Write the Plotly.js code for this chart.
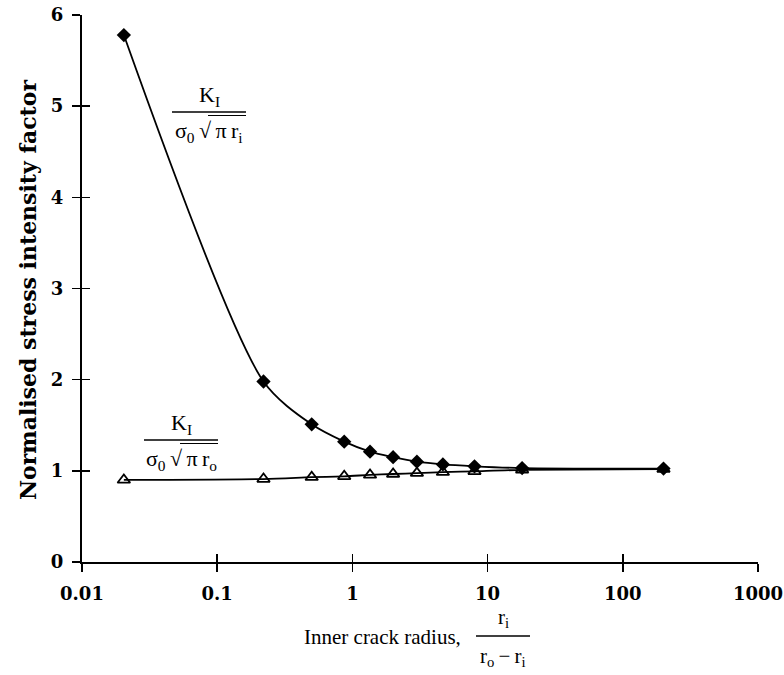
<!DOCTYPE html>
<html>
<head>
<meta charset="utf-8">
<script src="https://cdn.plot.ly/plotly-3.0.1.min.js"></script>
<style>html,body{margin:0;padding:0;background:#fff}#chart{width:784px;height:675px}</style>
</head>
<body>
<div id="chart"></div>
<script>
// ---- data ----
const crackRatio = [0.0204, 0.22, 0.5, 0.87, 1.35, 2, 3, 4.67, 8, 18, 200];
const kiInner = [5.78, 1.98, 1.51, 1.32, 1.21, 1.15, 1.10, 1.07, 1.05, 1.03, 1.025];
const kiOuter = [0.90, 0.91, 0.93, 0.94, 0.955, 0.965, 0.975, 0.985, 0.995, 1.01, 1.02];
const xTickVals = [0.01, 0.1, 1, 10, 100, 1000];
const xTickText = ['0.01', '0.1', '1', '10', '100', '1000'];
const yTickVals = [0, 1, 2, 3, 4, 5, 6];
const yTickText = ['0', '1', '2', '3', '4', '5', '6'];

// ---- layout geometry ----
const W = 784, H = 675;
const M = {l: 82, r: 26, t: 15, b: 113};
const PW = W - M.l - M.r, PH = H - M.t - M.b;
const px = v => (v - M.l) / PW;          // pixel x -> paper
const py = v => (H - M.b - v) / PH;      // pixel y -> paper

const serif = 'Liberation Serif, Times New Roman, serif';
const boldSerif = 'DejaVu Serif, serif';
const ts = '\u2009';

const traces = [
  {x: crackRatio, y: kiOuter, mode: 'lines+markers', type: 'scatter',
   line: {color: '#000', width: 1.8, shape: 'spline', smoothing: 0.8},
   marker: {symbol: 'triangle-up-open', size: 11, color: '#000', line: {width: 1.8, color: '#000'}},
   hoverinfo: 'x+y'},
  {x: crackRatio, y: kiInner, mode: 'lines+markers', type: 'scatter',
   line: {color: '#000', width: 1.8, shape: 'spline', smoothing: 0.8},
   marker: {symbol: 'diamond', size: 11, color: '#000'},
   hoverinfo: 'x+y'},
  // invisible trace so the inside-tick overlay axes are drawn
  {x: crackRatio, y: kiInner, xaxis: 'x2', yaxis: 'y2', mode: 'markers',
   marker: {opacity: 0}, hoverinfo: 'skip', showlegend: false}
];

const axisCommon = {
  showline: true, linecolor: '#000', linewidth: 2,
  ticks: 'outside', ticklen: 8, tickwidth: 1.5, tickcolor: '#000',
  showgrid: false, zeroline: false, fixedrange: true,
  tickfont: {family: boldSerif, size: 18, color: '#000', weight: 'bold'}
};

const ann = [];
function txt(x, y, text, size, extra) {
  ann.push(Object.assign({xref: 'paper', yref: 'paper', x: px(x), y: py(y), text: text,
    showarrow: false, xanchor: 'center', yanchor: 'middle',
    font: {family: serif, size: size, color: '#000'}}, extra || {}));
}
// y-axis title
txt(28, 290, 'Normalised stress intensity factor', 22,
  {textangle: -90, font: {family: boldSerif, size: 22, color: '#000', weight: 'bold'}});
// x-axis title
txt(463, 637, 'Inner crack radius,', 21, {xanchor: 'right'});
txt(503, 618, 'r<sub>i</sub>', 21);
txt(503, 657, 'r<sub>o</sub>' + ts + '−' + ts + 'r<sub>i</sub>', 21);
// fraction near the inner curve
txt(209, 96, 'K<sub>I</sub>', 22);
txt(209, 132, 'σ<sub>0</sub>' + ts + '√' + ts + 'π' + ts + 'r<sub>i</sub>', 22);
// fraction near the outer curve
txt(181, 424, 'K<sub>I</sub>', 22);
txt(181, 460, 'σ<sub>0</sub>' + ts + '√' + ts + 'π' + ts + 'r<sub>o</sub>', 22);

const shapes = [];
function hline(x0, x1, y, w) {
  shapes.push({type: 'line', xref: 'paper', yref: 'paper', x0: px(x0), x1: px(x1),
    y0: py(y), y1: py(y), line: {color: '#000', width: w || 1.5}});
}
hline(476, 530, 636);   // x-title fraction bar
hline(172, 246, 112);   // inner fraction bar
hline(208, 246, 115.5, 1.2); // sqrt overline
hline(144, 218, 440);   // outer fraction bar
hline(180, 218, 443.5, 1.2); // sqrt overline

const layout = {
  width: W, height: H, margin: M,
  paper_bgcolor: '#fff', plot_bgcolor: '#fff', showlegend: false,
  xaxis: Object.assign({}, axisCommon, {type: 'log', range: [-2, 3],
    tickvals: xTickVals, ticktext: xTickText, ticklabelstandoff: 6}),
  yaxis: Object.assign({}, axisCommon, {range: [0, 6],
    tickvals: yTickVals, ticktext: yTickText, ticklabelstandoff: 5}),
  xaxis2: {type: 'log', range: [-2, 3], overlaying: 'x', anchor: 'y', side: 'bottom',
    tickvals: xTickVals, ticks: 'inside', ticklen: 8, tickwidth: 1.5, tickcolor: '#000',
    showticklabels: false, showline: false, showgrid: false, zeroline: false, fixedrange: true},
  yaxis2: {range: [0, 6], overlaying: 'y', anchor: 'x', side: 'left',
    tickvals: yTickVals, ticks: 'inside', ticklen: 8, tickwidth: 1.5, tickcolor: '#000',
    showticklabels: false, showline: false, showgrid: false, zeroline: false, fixedrange: true},
  annotations: ann, shapes: shapes
};

Plotly.newPlot('chart', traces, layout, {displayModeBar: false, staticPlot: true});
</script>
</body>
</html>
